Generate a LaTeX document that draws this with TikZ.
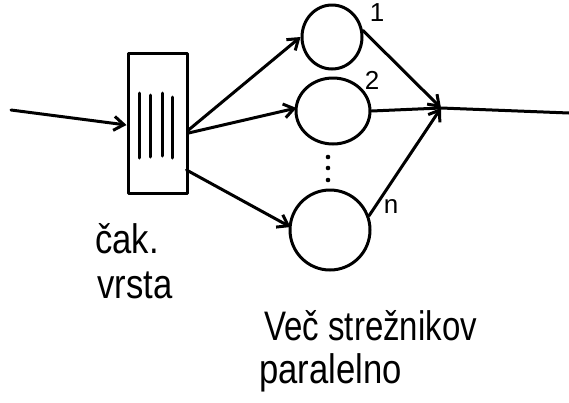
\documentclass[tikz,border=0pt]{standalone}
\usepackage{fontspec}
\setmainfont{Liberation Sans}
\usetikzlibrary{shapes.geometric,arrows.meta,calc}
\begin{document}
\begin{tikzpicture}[x=1pt,y=-1pt,
  ink/.style={line width=3pt,line cap=round,line join=round},
  flow/.style={ink,-{Straight Barb[length=10pt,width=14pt,line width=3pt]}},
  server/.style={ink,draw,ellipse,inner sep=0pt},
  qbox/.style={ink,draw,rectangle,inner sep=0pt,minimum width=59pt,minimum height=140pt},
  lbl/.style={font=\fontsize{33}{38}\selectfont,anchor=base west,inner sep=0pt},
  num/.style={font=\fontsize{26}{28}\selectfont,inner sep=0pt}]
\useasboundingbox (0,0) rectangle (569,402);
% nodes
\node[qbox] (q) at (157.5,123) {};
\node[server,minimum width=60pt,minimum height=64pt] (s1) at (332,37) {};
\node[server,minimum width=74pt,minimum height=66pt] (s2) at (333,111) {};
\node[server,minimum width=80pt,minimum height=80pt] (sn) at (330,230) {};
\coordinate (in) at (11,110);
\coordinate (j) at (441,108);
\coordinate (out) at (569,113);
% queue contents
\foreach \x/\a/\b in {139/93/158,150/95/157,162/93/156,172/97/158}
  \draw[ink] (\x,\a) -- (\x,\b);
% dots
\foreach \y in {157,168,180}
  \fill (328,\y) circle (2.3pt);
% connectors
\draw[flow] (in) -- ($(q.west)+(0,2)$);
\draw[flow] ($(q.east)+(0,7)$) -- (s1.west);
\draw[flow] ($(q.east)+(0,10)$) -- ($(s2.west)+(2,-3)$);
\draw[flow] ($(q.east)+(-2,47)$) -- ($(sn.west)+(2,-3)$);
\draw[flow] (s1.12) -- (j);
\draw[flow] (sn.20) -- (j);
\draw[ink] (s2.east) -- (j) -- (out);
% labels
\node[num] (l1) at (377,13) {1};
\node[num] (l2) at (372,80) {2};
\node[num] (ln) at (391,206) {n};
\node[lbl] (t1) at (95,253) {\scalebox{1.05}[1.25]{čak.}};
\node[lbl] (t2) at (97,298) {\scalebox{1.05}[1.25]{vrsta}};
\node[lbl] (t3) at (264,340) {\scalebox{1}[1.25]{Več strežnikov}};
\node[lbl] (t4) at (259,383) {\scalebox{1.05}[1.25]{paralelno}};
\end{tikzpicture}
\end{document}
